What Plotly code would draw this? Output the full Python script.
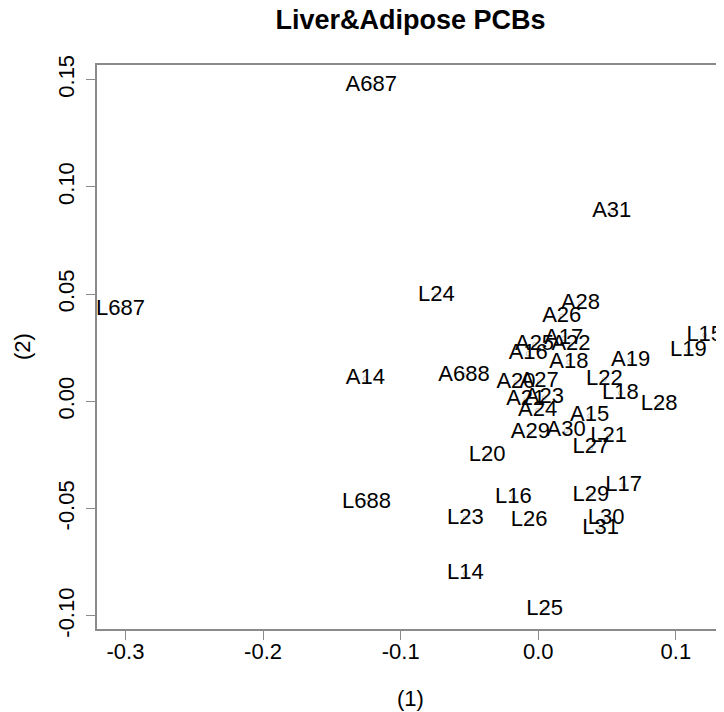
import plotly.graph_objects as go

labels = ["A687", "A31", "A28", "A26", "A17", "A22", "A25", "A16", "A18", "A19",
          "A688", "A14", "A20", "A27", "A21", "A23", "A24", "A15", "A29", "A30",
          "L687", "L24", "L15", "L19", "L22", "L18", "L28", "L21", "L27", "L20",
          "L688", "L16", "L23", "L26", "L29", "L17", "L30", "L31", "L14", "L25"]
dim1 = [-0.1214, 0.0534, 0.0307, 0.0171, 0.0185, 0.0238, -0.0027, -0.0073, 0.0222, 0.0671,
        -0.0540, -0.1257, -0.0162, 0.0007, -0.0091, 0.0044, -0.0005, 0.0373, -0.0057, 0.0203,
        -0.3036, -0.0741, 0.1210, 0.1091, 0.0480, 0.0597, 0.0878, 0.0512, 0.0382, -0.0372,
        -0.1248, -0.0181, -0.0530, -0.0067, 0.0382, 0.0621, 0.0493, 0.0453, -0.0530, 0.0047]
dim2 = [0.1473, 0.0886, 0.0456, 0.0398, 0.0293, 0.0265, 0.0265, 0.0223, 0.0182, 0.0191,
        0.0123, 0.0106, 0.0087, 0.0091, 0.0007, 0.0017, -0.0042, -0.0068, -0.0146, -0.0137,
        0.0430, 0.0494, 0.0309, 0.0235, 0.0102, 0.0038, -0.0015, -0.0163, -0.0216, -0.0252,
        -0.0470, -0.0449, -0.0544, -0.0555, -0.0438, -0.0392, -0.0544, -0.0591, -0.0803, -0.0968]

x_tickvals = [-0.3, -0.2, -0.1, 0.0, 0.1]
x_ticktext = ["-0.3", "-0.2", "-0.1", "0.0", "0.1"]
y_tickvals = [0.15, 0.10, 0.05, 0.00, -0.05, -0.10]
y_ticktext = ["0.15", "0.10", "0.05", "0.00", "-0.05", "-0.10"]

FONT = "Liberation Sans, Arial, Helvetica, sans-serif"
AXIS_GRAY = "#8a8a8a"

fig = go.Figure()
fig.add_trace(go.Scatter(
    x=dim1, y=dim2, mode="markers+text", text=labels,
    textposition="middle center",
    textfont=dict(family=FONT, size=22, color="black"),
    marker=dict(symbol="circle-open", size=4, color="#a0a0a0", line=dict(width=0.6)),
    hoverinfo="text", showlegend=False, cliponaxis=False,
))

fig.update_layout(
    width=716, height=704,
    margin=dict(l=89, r=0, t=57, b=83),
    paper_bgcolor="white", plot_bgcolor="white",
    font=dict(family=FONT, size=22, color="black"),
    title=dict(text="<b>Liver&Adipose PCBs</b>", x=0.5, xref="paper",
               y=1 - 12 / 704, yref="container", xanchor="center", yanchor="middle",
               font=dict(family=FONT, size=27, color="black")),
    xaxis=dict(range=[-0.3207, 0.1350], showgrid=False, zeroline=False,
               showline=True, linecolor=AXIS_GRAY, linewidth=1.5, mirror=True,
               ticks="outside", ticklen=9, tickcolor=AXIS_GRAY, tickwidth=1.2,
               tickvals=x_tickvals, ticktext=x_ticktext, ticklabelstandoff=-7,
               tickfont=dict(family=FONT, size=22, color="black")),
    yaxis=dict(range=[-0.1061, 0.1568], showgrid=False, zeroline=False,
               showline=True, linecolor=AXIS_GRAY, linewidth=1.5, mirror=False,
               ticks="outside", ticklen=9, tickcolor=AXIS_GRAY, tickwidth=1.2,
               tickvals=y_tickvals, ticktext=y_ticktext, tickangle=-90,
               ticklabelstandoff=3,
               tickfont=dict(family=FONT, size=22, color="black")),
    annotations=[
        dict(text="(1)", x=0.5, xref="paper", y=-69 / 564, yref="paper",
             showarrow=False, xanchor="center", yanchor="middle",
             font=dict(family=FONT, size=22, color="black")),
        dict(text="(2)", x=-(89 - 14) / 627, xref="paper", y=0.5, yref="paper",
             showarrow=False, xanchor="center", yanchor="middle", textangle=-90,
             font=dict(family=FONT, size=22, color="black")),
    ],
)

fig.write_html("out.html")
